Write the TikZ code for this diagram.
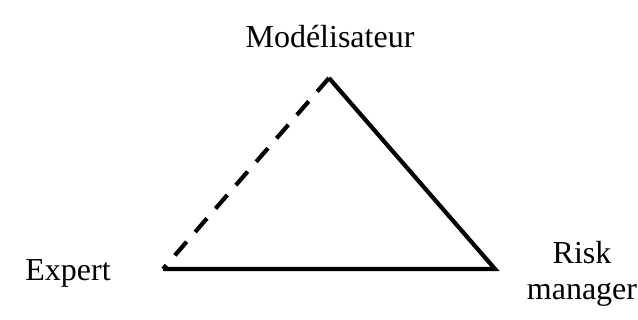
\documentclass[tikz,border=0pt]{standalone}
\usepackage{fontspec}
\setmainfont{Liberation Serif}
\usepackage{tikz}

\begin{document}
\begin{tikzpicture}[x=1pt,y=-1pt,
  side/.style={line width=4.2pt, line cap=butt, line join=miter},
  role/.style={font=\fontsize{32}{36}\selectfont, align=center, inner sep=0pt}]
\useasboundingbox (0,0) rectangle (638,320);
\coordinate (apex) at (329,78);
\coordinate (left) at (163,269);
\coordinate (right) at (495,269);
\draw[side, dash pattern=on 18pt off 13pt] (apex) -- (left);
\draw[side] (apex) -- (right) -- (left);
\node[role] (model) at (330,37) {Modélisateur};
\node[role] (expert) at (68,273) {Expert};
\node[role] (risk) at (582,274) {Risk\\manager};
\end{tikzpicture}
\end{document}
